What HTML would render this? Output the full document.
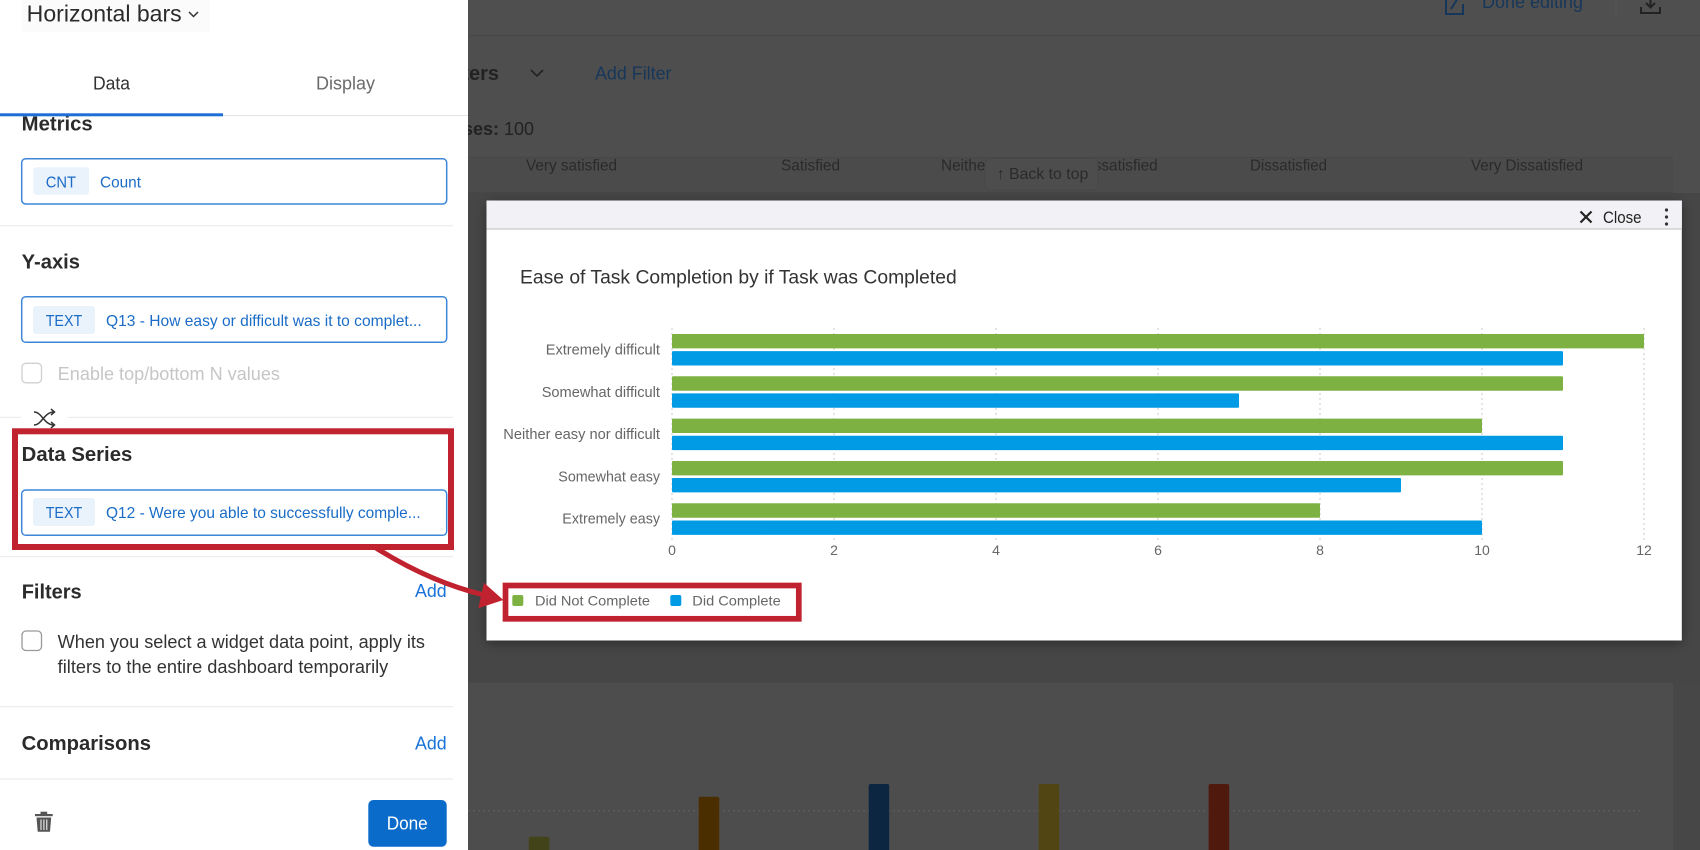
<!DOCTYPE html>
<html>
<head>
<meta charset="utf-8">
<style>
  html,body{margin:0;padding:0;background:#4d4d4d;}
  svg{display:block;}
  text{font-family:"Liberation Sans", sans-serif;}
</style>
</head>
<body>
<svg width="1700" height="850" viewBox="0 0 1700 850" xmlns="http://www.w3.org/2000/svg">
  <defs>
    <filter id="sh" x="-5%" y="-10%" width="110%" height="125%">
      <feDropShadow dx="0" dy="3" stdDeviation="6" flood-color="#000" flood-opacity="0.35"/>
    </filter>
  </defs>

  <!-- ===== Background dashboard (under overlay) ===== -->
  <rect x="0" y="0" width="1700" height="850" fill="#4e4e4e"/>
  <rect x="0" y="0" width="1700" height="35" fill="#4f4f4f"/>
  <line x1="468" y1="35.5" x2="1700" y2="35.5" stroke="#484848" stroke-width="1"/>
  <rect x="0" y="193" width="1700" height="490" fill="#464646"/>
  <rect x="468" y="157" width="1205" height="36" fill="#4b4b4b"/>
  <line x1="468" y1="157.5" x2="1673" y2="157.5" stroke="#474747"/>
  <line x1="468" y1="193" x2="1673" y2="193" stroke="#444"/>
  <rect x="468" y="682.7" width="1205" height="168" fill="#4d4d4d"/>
  <rect x="1673" y="682.7" width="27" height="168" fill="#474747"/>

  <!-- top header -->
  <text x="1482" y="8" font-size="18" fill="#17375a" textLength="101" lengthAdjust="spacingAndGlyphs">Done editing</text>
  <g stroke="#17375a" stroke-width="2" fill="none">
    <path d="M1446 -4 L1446 14 L1463 14 L1463 4"/>
    <path d="M1451 9 L1458 -2"/>
  </g>
  <line x1="1616" y1="0" x2="1616" y2="18" stroke="#575757" stroke-width="1"/>
  <g stroke="#222" stroke-width="2" fill="none">
    <path d="M1650.5 -4 L1650.5 7"/>
    <path d="M1646 3 L1650.5 7.5 L1655 3"/>
    <path d="M1641 7 L1641 13 L1660 13 L1660 7"/>
  </g>

  <text x="499" y="80" font-size="20" font-weight="bold" fill="#222" text-anchor="end">Filters</text>
  <polyline points="531,70 537,76 543,70" fill="none" stroke="#222" stroke-width="1.6"/>
  <text x="595" y="79.5" font-size="18" fill="#17375a" textLength="76.5" lengthAdjust="spacingAndGlyphs">Add Filter</text>
  <text x="499" y="135" font-size="18" font-weight="bold" fill="#222" text-anchor="end">Responses:</text>
  <text x="504" y="135" font-size="18" fill="#222" textLength="30" lengthAdjust="spacingAndGlyphs">100</text>

  <!-- table header -->
  <g font-size="16" fill="#2a2a2a">
    <text x="526" y="170.5" textLength="91" lengthAdjust="spacingAndGlyphs">Very satisfied</text>
    <text x="781" y="170.5" textLength="59" lengthAdjust="spacingAndGlyphs">Satisfied</text>
    <text x="941" y="170.5" textLength="216.7" lengthAdjust="spacingAndGlyphs">Neither satisfied nor dissatisfied</text>
    <text x="1250" y="170.5" textLength="77" lengthAdjust="spacingAndGlyphs">Dissatisfied</text>
    <text x="1471" y="170.5" textLength="112" lengthAdjust="spacingAndGlyphs">Very Dissatisfied</text>
  </g>
  <rect x="985" y="158.5" width="113" height="31.5" rx="5" fill="#4d4d4d" stroke="#474747"/>
  <text x="996.7" y="179" font-size="16" fill="#2a2a2a" textLength="91.6" lengthAdjust="spacingAndGlyphs">↑ Back to top</text>

  <!-- background widget bars -->
  <line x1="468" y1="810.7" x2="1643" y2="810.7" stroke="#5c5c5c" stroke-width="1.5" stroke-dasharray="2 3"/>
  <rect x="528.8" y="836.7" width="20.5" height="20" rx="2" fill="#43431a"/>
  <rect x="698.7" y="796.7" width="20.6" height="60" rx="2" fill="#4a2e00"/>
  <rect x="868.7" y="784" width="20.5" height="70" rx="2" fill="#0c2642"/>
  <rect x="1038.7" y="784" width="20.5" height="70" rx="2" fill="#514613"/>
  <rect x="1208.6" y="784" width="20.6" height="70" rx="2" fill="#4f190d"/>

  <!-- ===== Left panel ===== -->
  <rect x="0" y="0" width="468" height="850" fill="#ffffff"/>
  <rect x="21.7" y="0" width="188" height="31.7" fill="#fbfbfb"/>
  <text x="26.7" y="21.7" font-size="23" fill="#2b2b2b" textLength="155" lengthAdjust="spacingAndGlyphs">Horizontal bars</text>
  <polyline points="189,12 193.5,16.5 198,12" fill="none" stroke="#333" stroke-width="1.5"/>

  <text x="21.7" y="130.7" font-size="20" font-weight="bold" fill="#2b2b2b" textLength="71" lengthAdjust="spacingAndGlyphs">Metrics</text>
  <!-- tabs header overlay -->
  <rect x="0" y="35" width="468" height="81" fill="#ffffff"/>
  <text x="93" y="89.5" font-size="18" fill="#333" textLength="37" lengthAdjust="spacingAndGlyphs">Data</text>
  <text x="316" y="89.5" font-size="18" fill="#6b6b6b" textLength="59" lengthAdjust="spacingAndGlyphs">Display</text>
  <line x1="0" y1="115.5" x2="468" y2="115.5" stroke="#e3e3e3" stroke-width="1"/>
  <rect x="0" y="113.3" width="223" height="3" fill="#1b6fd6"/>

  <!-- Metrics box -->
  <rect x="21.7" y="158.7" width="425" height="45.3" rx="4" fill="#fff" stroke="#3d86d8" stroke-width="1.5"/>
  <rect x="33.3" y="167.3" width="55.7" height="27.4" rx="3" fill="#eaf2fc"/>
  <text x="45.7" y="187.5" font-size="16" fill="#1a6cc6" textLength="30.3" lengthAdjust="spacingAndGlyphs">CNT</text>
  <text x="100" y="187.5" font-size="16" fill="#1a6cc6" textLength="41" lengthAdjust="spacingAndGlyphs">Count</text>
  <line x1="0" y1="225.7" x2="453" y2="225.7" stroke="#ececec" stroke-width="1.2"/>

  <!-- Y-axis -->
  <text x="21.7" y="268.5" font-size="20" font-weight="bold" fill="#2b2b2b" textLength="58.3" lengthAdjust="spacingAndGlyphs">Y-axis</text>
  <rect x="21.7" y="296.7" width="425" height="45.6" rx="4" fill="#fff" stroke="#3d86d8" stroke-width="1.5"/>
  <rect x="33" y="306" width="62" height="28" rx="3" fill="#eaf2fc"/>
  <text x="45.7" y="325.8" font-size="16" fill="#1a6cc6" textLength="36.6" lengthAdjust="spacingAndGlyphs">TEXT</text>
  <text x="106" y="325.8" font-size="16" fill="#1a6cc6" textLength="315.7" lengthAdjust="spacingAndGlyphs">Q13 - How easy or difficult was it to complet...</text>

  <rect x="22" y="363.3" width="19.5" height="19.5" rx="4" fill="#fff" stroke="#cfcfcf" stroke-width="1.3"/>
  <text x="57.7" y="380" font-size="18" fill="#c6c6c6" textLength="222.3" lengthAdjust="spacingAndGlyphs">Enable top/bottom N values</text>

  <line x1="0" y1="417.3" x2="453" y2="417.3" stroke="#ececec" stroke-width="1.2"/>
  <rect x="21" y="401.5" width="46.7" height="24" fill="#fff"/>
  <g stroke="#333" stroke-width="1.5" fill="none">
    <path d="M34 412 C42 412 44 425 54 425"/>
    <path d="M34 425 C42 425 44 412 54 412"/>
    <polyline points="51,409 54.5,412 51,415"/>
    <polyline points="51,422 54.5,425 51,428"/>
  </g>

  <!-- Data Series (highlighted) -->
  <text x="21.7" y="461" font-size="20" font-weight="bold" fill="#2b2b2b" textLength="110.6" lengthAdjust="spacingAndGlyphs">Data Series</text>
  <rect x="21.7" y="490" width="425" height="45.3" rx="4" fill="#fff" stroke="#3d86d8" stroke-width="1.5"/>
  <rect x="33" y="498" width="62" height="28" rx="3" fill="#eaf2fc"/>
  <text x="45.7" y="518" font-size="16" fill="#1a6cc6" textLength="36.6" lengthAdjust="spacingAndGlyphs">TEXT</text>
  <text x="106" y="518" font-size="16" fill="#1a6cc6" textLength="314.7" lengthAdjust="spacingAndGlyphs">Q12 - Were you able to successfully comple...</text>
  <rect x="15" y="431.3" width="436" height="115.7" fill="none" stroke="#c0232f" stroke-width="6"/>
  <line x1="0" y1="556.7" x2="453" y2="556.7" stroke="#ececec" stroke-width="1.2"/>

  <!-- Filters -->
  <text x="21.7" y="598.5" font-size="20" font-weight="bold" fill="#2b2b2b" textLength="60" lengthAdjust="spacingAndGlyphs">Filters</text>
  <text x="415" y="597" font-size="18" fill="#1a73d9" textLength="31.7" lengthAdjust="spacingAndGlyphs">Add</text>
  <rect x="22" y="631" width="19.5" height="19.5" rx="4" fill="#fff" stroke="#9a9a9a" stroke-width="1.3"/>
  <text x="57.7" y="648" font-size="18" fill="#333" textLength="367.3" lengthAdjust="spacingAndGlyphs">When you select a widget data point, apply its</text>
  <text x="57.7" y="673" font-size="18" fill="#333" textLength="330.6" lengthAdjust="spacingAndGlyphs">filters to the entire dashboard temporarily</text>
  <line x1="0" y1="706.7" x2="453" y2="706.7" stroke="#ececec" stroke-width="1.2"/>

  <!-- Comparisons -->
  <text x="21.7" y="750" font-size="20" font-weight="bold" fill="#2b2b2b" textLength="129.3" lengthAdjust="spacingAndGlyphs">Comparisons</text>
  <text x="415" y="749.5" font-size="18" fill="#1a73d9" textLength="31.7" lengthAdjust="spacingAndGlyphs">Add</text>
  <line x1="0" y1="779" x2="453" y2="779" stroke="#ececec" stroke-width="1.2"/>

  <!-- trash icon -->
  <g fill="#555">
    <rect x="35" y="814" width="17.7" height="2.2"/>
    <rect x="40.5" y="811.7" width="6.7" height="2.5"/>
    <path d="M36.5 817.5 L51.2 817.5 L50 831.7 L37.7 831.7 Z"/>
  </g>
  <g stroke="#fff" stroke-width="1">
    <line x1="41" y1="819.5" x2="41" y2="830"/>
    <line x1="43.9" y1="819.5" x2="43.9" y2="830"/>
    <line x1="46.8" y1="819.5" x2="46.8" y2="830"/>
  </g>

  <!-- Done button -->
  <rect x="368.3" y="800" width="78.4" height="46.7" rx="5" fill="#0b6bcb"/>
  <text x="386.7" y="829.5" font-size="18" fill="#fff" textLength="41" lengthAdjust="spacingAndGlyphs">Done</text>

  <!-- ===== Modal ===== -->
  <rect x="486.5" y="200.5" width="1195.3" height="440" fill="#fff" filter="url(#sh)"/>
  <rect x="486.5" y="200.5" width="1195.3" height="28.5" fill="#f2f2f6"/>
  <line x1="486.5" y1="229" x2="1681.8" y2="229" stroke="#c9c9c9" stroke-width="1.2"/>
  <g stroke="#222" stroke-width="2.2">
    <line x1="1580.5" y1="211.5" x2="1591.5" y2="222.5"/>
    <line x1="1591.5" y1="211.5" x2="1580.5" y2="222.5"/>
  </g>
  <text x="1603" y="223" font-size="17" fill="#222" textLength="38.5" lengthAdjust="spacingAndGlyphs">Close</text>
  <g fill="#333">
    <circle cx="1666.5" cy="210" r="1.6"/>
    <circle cx="1666.5" cy="217" r="1.6"/>
    <circle cx="1666.5" cy="224" r="1.6"/>
  </g>

  <text x="520" y="283.3" font-size="19" fill="#333" textLength="436.7" lengthAdjust="spacingAndGlyphs">Ease of Task Completion by if Task was Completed</text>

  <!-- gridlines -->
  <g stroke="#d6d6d6" stroke-width="1.3" stroke-dasharray="2 3">
    <line x1="672" y1="328" x2="672" y2="540"/>
    <line x1="834" y1="328" x2="834" y2="540"/>
    <line x1="996" y1="328" x2="996" y2="540"/>
    <line x1="1158" y1="328" x2="1158" y2="540"/>
    <line x1="1320" y1="328" x2="1320" y2="540"/>
    <line x1="1482" y1="328" x2="1482" y2="540"/>
    <line x1="1644" y1="328" x2="1644" y2="540"/>
  </g>

  <!-- bars -->
  <g fill="#7db243">
    <rect x="672" y="334" width="972" height="14.4" rx="1"/>
    <rect x="672" y="376.3" width="891" height="14.4" rx="1"/>
    <rect x="672" y="418.6" width="810" height="14.4" rx="1"/>
    <rect x="672" y="461" width="891" height="14.4" rx="1"/>
    <rect x="672" y="503.3" width="648" height="14.4" rx="1"/>
  </g>
  <g fill="#009be4">
    <rect x="672" y="351.1" width="891" height="14.4" rx="1"/>
    <rect x="672" y="393.4" width="567" height="14.4" rx="1"/>
    <rect x="672" y="435.7" width="891" height="14.4" rx="1"/>
    <rect x="672" y="478" width="729" height="14.4" rx="1"/>
    <rect x="672" y="520.5" width="810" height="14.4" rx="1"/>
  </g>

  <!-- category labels -->
  <g font-size="15" fill="#666">
    <text x="545.7" y="354.5" textLength="114.3" lengthAdjust="spacingAndGlyphs">Extremely difficult</text>
    <text x="541.7" y="396.8" textLength="118.3" lengthAdjust="spacingAndGlyphs">Somewhat difficult</text>
    <text x="503.3" y="439.1" textLength="156.7" lengthAdjust="spacingAndGlyphs">Neither easy nor difficult</text>
    <text x="558.3" y="481.4" textLength="101.7" lengthAdjust="spacingAndGlyphs">Somewhat easy</text>
    <text x="562.3" y="523.7" textLength="97.7" lengthAdjust="spacingAndGlyphs">Extremely easy</text>
  </g>

  <!-- tick labels -->
  <g font-size="14" fill="#666" text-anchor="middle">
    <text x="672" y="555">0</text>
    <text x="834" y="555">2</text>
    <text x="996" y="555">4</text>
    <text x="1158" y="555">6</text>
    <text x="1320" y="555">8</text>
    <text x="1482" y="555">10</text>
    <text x="1644" y="555">12</text>
  </g>

  <!-- legend -->
  <rect x="512.3" y="595" width="11" height="11" rx="2" fill="#7db243"/>
  <text x="535" y="605.5" font-size="14" fill="#666" textLength="115" lengthAdjust="spacingAndGlyphs">Did Not Complete</text>
  <rect x="670.3" y="595" width="11" height="11" rx="2" fill="#009be4"/>
  <text x="692.3" y="605.5" font-size="14" fill="#666" textLength="88.4" lengthAdjust="spacingAndGlyphs">Did Complete</text>
  <rect x="505.5" y="585.5" width="293.3" height="33.3" fill="none" stroke="#c0232f" stroke-width="5.7"/>

  <!-- red arrow -->
  <path d="M376 548 Q430 582 484 595" fill="none" stroke="#c0232f" stroke-width="5"/>
  <polygon points="484,582.7 503.3,600 478.3,608.3" fill="#c0232f"/>
</svg>
</body>
</html>
